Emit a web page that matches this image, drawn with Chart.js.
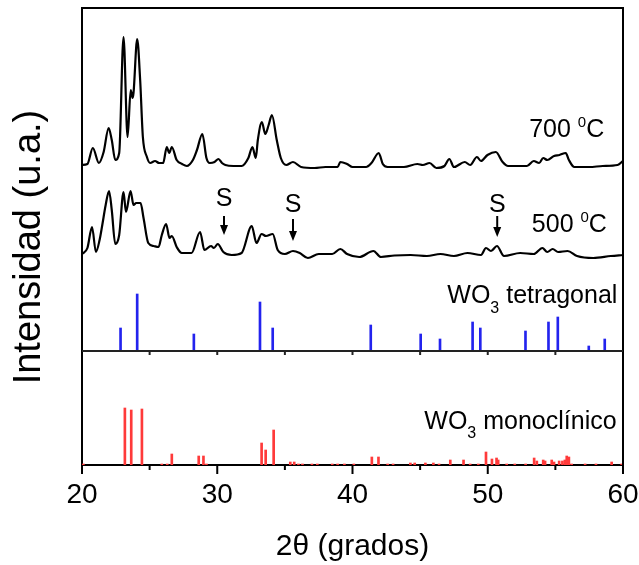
<!DOCTYPE html>
<html lang="es">
<head>
<meta charset="UTF-8">
<title>DRX WO3</title>
<script src="https://cdn.jsdelivr.net/npm/chart.js"></script>
<style>
    body { margin: 0; background: #fff; }
</style>
</head>
<body>
<canvas id="drxGrafico" width="639" height="565"></canvas>
<script>
    // Difractograma a 700 C: 2theta (grados) e intensidad (u.a.)
    var theta700 = [20.0, 20.4, 20.8, 21.25, 21.6, 21.97, 22.2, 22.46, 22.75, 23.07, 23.37, 23.6, 23.74, 23.81, 24.08, 24.3, 24.5, 24.8, 25.04, 25.4, 25.7, 26.0, 26.27, 26.45, 26.64, 27.0, 27.4, 27.75, 28.2, 28.5, 28.9, 29.2, 29.45, 29.8, 30.09, 30.35, 30.6, 31.2, 31.8, 32.3, 32.6, 32.85, 33.0, 33.3, 33.55, 33.8, 34.04, 34.4, 34.7, 35.1, 35.6, 36.2, 37.2, 38.0, 38.9, 39.1, 39.6, 40.0, 41.0, 41.4, 41.94, 42.24, 42.6, 43.8, 44.8, 45.2, 45.7, 46.2, 46.8, 47.16, 47.5, 48.3, 48.7, 49.2, 49.5, 49.98, 50.6, 51.1, 51.5, 52.9, 53.4, 53.8, 54.1, 54.4, 54.9, 55.3, 55.77, 56.0, 56.4, 57.5, 58.5, 59.6, 60.0];
    var int700 = [7, 8, 24, 9, 20, 44, 32, 12, 19, 135, 35, 82, 74, 79, 133, 92, 35, 15, 9, 11, 9, 9, 25, 19, 25, 12, 8, 6, 12, 22, 38, 14, 9, 10, 13, 9, 7, 6, 6, 14, 25, 14, 32, 50, 38, 47, 57, 32, 14, 7, 10, 5, 4, 5, 5, 10, 8, 5, 5, 9, 19, 8, 5, 5, 8, 7, 9, 4, 6, 13, 5, 10, 7, 15, 11, 17, 20, 10, 6, 6, 11, 9, 14, 12, 16, 17, 19, 12, 5, 5, 6, 7, 11];

    // Difractograma a 500 C
    var theta500 = [20.0, 20.4, 20.74, 21.03, 21.3, 21.5, 21.75, 22.0, 22.2, 22.46, 22.75, 23.07, 23.25, 23.59, 23.81, 24.0, 24.33, 24.55, 24.9, 25.3, 25.66, 25.9, 26.22, 26.47, 26.64, 27.0, 27.38, 28.1, 28.73, 29.05, 29.54, 29.75, 30.04, 30.45, 31.07, 31.8, 32.55, 32.9, 33.28, 33.6, 34.1, 34.47, 35.0, 35.6, 36.1, 36.7, 37.5, 38.5, 39.1, 39.6, 40.5, 41.55, 42.1, 43.1, 44.3, 45.5, 46.5, 47.5, 48.5, 49.5, 49.87, 50.24, 50.68, 51.2, 52.4, 53.4, 54.04, 54.4, 54.8, 55.2, 55.9, 56.6, 57.8, 59.1, 60.0];
    var int500 = [8, 14, 35, 10, 22, 37, 57, 71, 52, 18, 27, 70, 50, 71, 57, 59, 59, 44, 19, 16, 15, 27, 38, 24, 26, 15, 9, 9, 30, 12, 16, 14, 18, 10, 7, 9, 36, 19, 28, 26, 28, 12, 8, 11, 9, 4, 8, 8, 13, 8, 5, 11, 5, 6.5, 7, 6, 8, 6, 9, 7, 14, 11, 16, 6, 9, 8, 14, 10, 13, 10, 11, 6, 4, 6, 7];

    // Ficha WO3 tetragonal
    var tetraTheta = [22.85, 24.08, 28.27, 33.16, 34.1, 41.35, 45.04, 46.47, 48.88, 49.45, 52.79, 54.49, 55.18, 57.47, 58.65];
    var tetraInt = [23, 57, 17, 49, 23, 26, 17, 12, 29, 23, 20, 29, 34, 5, 12];

    // Ficha WO3 monoclinico
    var monoTheta = [20.1, 23.17, 23.64, 24.43, 25.9, 26.3, 26.64, 28.63, 28.98, 29.2, 33.28, 33.58, 34.17, 35.4, 35.69, 36.0, 36.3, 37.0, 37.4, 38.5, 38.9, 39.4, 40.1, 41.43, 41.92, 42.6, 43.0, 44.28, 44.6, 45.39, 45.98, 46.4, 47.23, 48.21, 48.7, 49.3, 49.87, 50.31, 50.65, 50.77, 51.4, 52.0, 52.8, 53.43, 53.63, 54.1, 54.24, 54.73, 54.9, 55.28, 55.52, 55.7, 55.84, 56.0, 56.2, 57.2, 58.0, 59.16, 59.9];
    var monoInt = [1, 57, 55, 56, 1, 1, 11, 9, 9, 1, 22, 15, 35, 3, 3, 1, 1, 1, 1, 1, 1, 1, 1, 8, 8, 1, 1, 2, 2, 2, 2, 1, 5, 5, 1, 1, 13, 6, 7, 5, 1, 1, 1, 7, 4, 5, 4, 5, 3, 4, 4, 5, 9, 8, 1, 1, 1, 3, 1];

    var xTicks = [20, 30, 40, 50, 60];

    // posiciones marcadas con S en la muestra de 500 C
    var picosS = [30.5, 35.6, 50.7];

    // desplazamiento vertical de cada patron
    var base700 = 293;
    var base500 = 203;
    var baseTetra = 114;
    var baseMono = 0;

    var fuente = "'Liberation Sans', Arial, sans-serif";

    function puntos(xs, ys, base) {
        var out = [];
        for (var i = 0; i < xs.length; i++) {
            out.push({ x: xs[i], y: ys[i] + base });
        }
        return out;
    }

    function barras(xs, ys, base) {
        var out = [];
        for (var i = 0; i < xs.length; i++) {
            out.push({ x: xs[i], y: [base, base + ys[i]] });
        }
        return out;
    }

    // texto con sub/superindice: partes = [texto, tamaño, desplazamiento vertical]
    function textoCompuesto(ctx, partes, x, y) {
        ctx.textAlign = 'left';
        ctx.textBaseline = 'alphabetic';
        for (var i = 0; i < partes.length; i++) {
            ctx.font = partes[i][1] + 'px ' + fuente;
            ctx.fillText(partes[i][0], x, y + partes[i][2]);
            x += ctx.measureText(partes[i][0]).width;
        }
    }

    var decoracion = {
        id: 'decoracion',
        afterDraw: function (chart) {
            var ctx = chart.ctx;
            var xs = chart.scales.x;
            var ys = chart.scales.y;
            var area = chart.chartArea;
            ctx.save();
            ctx.strokeStyle = '#000';
            ctx.lineWidth = 2;

            // marco superior y derecho
            ctx.beginPath();
            ctx.moveTo(area.left - 1, area.top);
            ctx.lineTo(area.right, area.top);
            ctx.lineTo(area.right, area.bottom + 1);
            ctx.stroke();

            // marcas del eje inferior
            for (var v = 20; v <= 60; v += 5) {
                var px = xs.getPixelForValue(v);
                ctx.beginPath();
                ctx.moveTo(px, area.bottom);
                ctx.lineTo(px, area.bottom + (v % 10 === 0 ? 9 : 5));
                ctx.stroke();
            }

            // linea base de la ficha tetragonal
            var yMid = ys.getPixelForValue(baseTetra);
            ctx.strokeStyle = '#222';
            ctx.beginPath();
            ctx.moveTo(area.left, yMid);
            ctx.lineTo(area.right, yMid);
            ctx.stroke();
            for (v = 25; v < 60; v += 5) {
                px = xs.getPixelForValue(v);
                ctx.beginPath();
                ctx.moveTo(px, yMid);
                ctx.lineTo(px, yMid + 4);
                ctx.stroke();
            }

            // flechas S
            var sY = [266, 260, 260];
            var fIni = [249, 246, 249];
            var fFin = [230, 224, 228];
            ctx.fillStyle = '#000';
            ctx.strokeStyle = '#000';
            for (var i = 0; i < picosS.length; i++) {
                px = xs.getPixelForValue(picosS[i]);
                ctx.font = '25px ' + fuente;
                ctx.textAlign = 'center';
                ctx.textBaseline = 'middle';
                ctx.fillText('S', px, ys.getPixelForValue(sY[i]));
                var y0 = ys.getPixelForValue(fIni[i]);
                var y1 = ys.getPixelForValue(fFin[i]);
                ctx.lineWidth = 2;
                ctx.beginPath();
                ctx.moveTo(px, y0);
                ctx.lineTo(px, y1 - 8);
                ctx.stroke();
                ctx.beginPath();
                ctx.moveTo(px - 4, y1 - 10);
                ctx.lineTo(px + 4, y1 - 10);
                ctx.lineTo(px, y1);
                ctx.closePath();
                ctx.fill();
            }

            // rotulos
            ctx.fillStyle = '#000';
            textoCompuesto(ctx, [['700 ', 25, 0], ['0', 15, -10], ['C', 25, 0]], xs.getPixelForValue(53.06), ys.getPixelForValue(328));
            textoCompuesto(ctx, [['500 ', 25, 0], ['0', 15, -10], ['C', 25, 0]], xs.getPixelForValue(53.26), ys.getPixelForValue(233));
            textoCompuesto(ctx, [['WO', 25, 0], ['3', 16, 10], [' tetragonal', 25, 0]], xs.getPixelForValue(47.01), ys.getPixelForValue(162));
            textoCompuesto(ctx, [['WO', 25, 0], ['3', 16, 9], [' monoclínico', 25, 0]], xs.getPixelForValue(45.31), ys.getPixelForValue(36));
            ctx.restore();
        }
    };

    var ctx = document.getElementById('drxGrafico').getContext('2d');
    var drxGrafico = new Chart(ctx, {
        type: 'line',
        data: {
            datasets: [{
                label: '700 C',
                data: puntos(theta700, int700, base700),
                borderColor: '#000',
                borderWidth: 2.2,
                pointRadius: 0,
                cubicInterpolationMode: 'monotone'
            }, {
                label: '500 C',
                data: puntos(theta500, int500, base500),
                borderColor: '#000',
                borderWidth: 2.2,
                pointRadius: 0,
                cubicInterpolationMode: 'monotone'
            }, {
                type: 'bar',
                label: 'WO3 tetragonal',
                data: barras(tetraTheta, tetraInt, baseTetra),
                backgroundColor: '#2323ee',
                barThickness: 2,
                grouped: false
            }, {
                type: 'bar',
                label: 'WO3 monoclinico',
                data: barras(monoTheta, monoInt, baseMono),
                backgroundColor: '#ff3a3a',
                barThickness: 2,
                grouped: false
            }]
        },
        options: {
            responsive: false,
            animation: false,
            layout: { padding: { left: 7, right: 16, top: 8, bottom: 0 } },
            plugins: {
                legend: { display: false },
                tooltip: { enabled: false }
            },
            scales: {
                x: {
                    type: 'linear',
                    min: 20,
                    max: 60,
                    offset: false,
                    afterBuildTicks: function (scale) {
                        scale.ticks = xTicks.map(function (v) { return { value: v }; });
                    },
                    afterFit: function (scale) {
                        scale.height = 100;
                        scale.paddingLeft = 0;
                        scale.paddingRight = 0;
                    },
                    grid: { display: false, drawTicks: false },
                    border: { display: true, color: '#000', width: 2 },
                    ticks: {
                        color: '#000',
                        padding: 13,
                        font: { family: fuente, size: 28 }
                    },
                    title: {
                        display: true,
                        text: '2θ (grados)',
                        color: '#000',
                        padding: 0,
                        font: { family: fuente, size: 30 }
                    }
                },
                y: {
                    min: 0,
                    max: 457,
                    afterFit: function (scale) { scale.width = 75; },
                    grid: { display: false, drawTicks: false },
                    border: { display: true, color: '#000', width: 2 },
                    ticks: { display: false },
                    title: {
                        display: true,
                        text: 'Intensidad (u.a.)  ',
                        color: '#000',
                        padding: 0,
                        font: { family: fuente, size: 38 }
                    }
                }
            }
        },
        plugins: [decoracion]
    });
</script>
</body>
</html>
